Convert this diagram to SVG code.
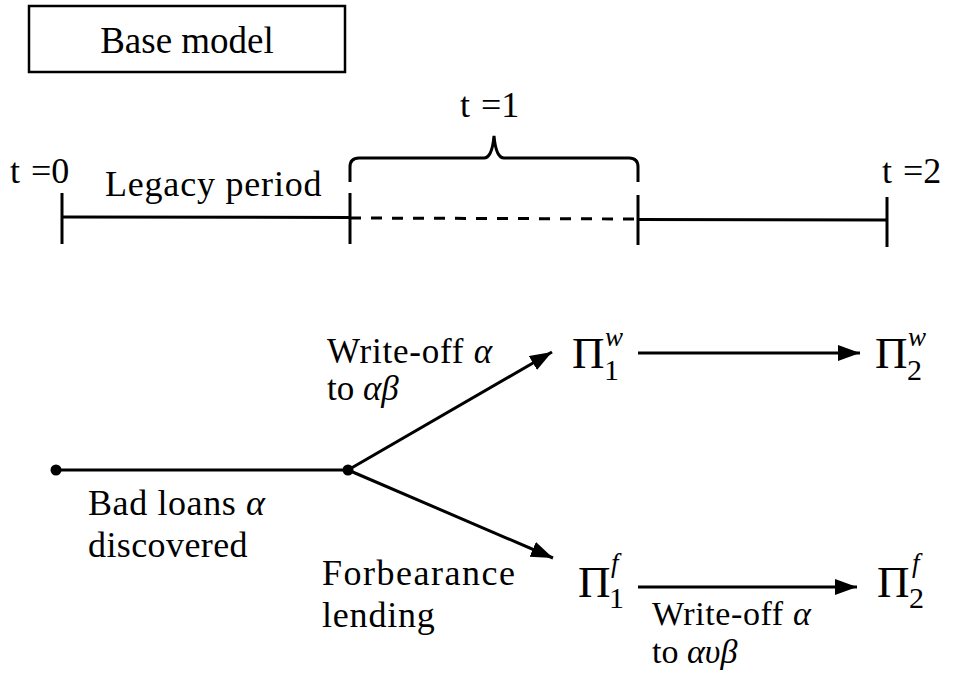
<svg xmlns="http://www.w3.org/2000/svg" width="957" height="677" viewBox="0 0 957 677">
<rect width="957" height="677" fill="#fff"/>
<defs>
<marker id="ah" markerUnits="userSpaceOnUse" markerWidth="24" markerHeight="18" refX="22" refY="8" orient="auto">
<path d="M0,0 L22,8 L0,16 Z" fill="#000"/>
</marker>
</defs>

<g id="title">
<rect x="29" y="6" width="316" height="66" fill="none" stroke="#000" stroke-width="2.5"/>
<text x="187" y="53" text-anchor="middle" font-family="Times New Roman, Liberation Serif, DejaVu Serif, serif" font-size="37">Base model</text>
</g>

<g id="timeline">
<line stroke="#000" stroke-width="3" x1="62" y1="217" x2="350" y2="217.5"/>
<line stroke="#000" stroke-width="3" x1="350" y1="218" x2="638" y2="219" stroke-dasharray="11 10"/>
<line stroke="#000" stroke-width="3" x1="638" y1="219.5" x2="887" y2="220"/>
<line stroke="#000" stroke-width="3" x1="62" y1="193" x2="62" y2="244"/>
<line stroke="#000" stroke-width="3" x1="350" y1="193" x2="350" y2="244"/>
<line stroke="#000" stroke-width="3" x1="638" y1="195" x2="638" y2="245"/>
<line stroke="#000" stroke-width="3" x1="887" y1="197" x2="887" y2="247"/>
<path stroke="#000" stroke-width="3" fill="none" d="M350,182 L350,167 Q350,158 359,158 L484,158 Q492,158 494,136 Q496,158 504,158 L629,158 Q638,158 638,167 L638,182"/>
<text x="10" y="183" font-family="Times New Roman, Liberation Serif, DejaVu Serif, serif" font-size="36">t <tspan dx="2">=0</tspan></text>
<text x="105" y="196" font-family="Times New Roman, Liberation Serif, DejaVu Serif, serif" font-size="36" letter-spacing="0.8">Legacy period</text>
<text x="460" y="117" font-family="Times New Roman, Liberation Serif, DejaVu Serif, serif" font-size="36">t <tspan dx="2">=1</tspan></text>
<text x="882" y="183" font-family="Times New Roman, Liberation Serif, DejaVu Serif, serif" font-size="36">t <tspan dx="2">=2</tspan></text>
</g>

<g id="connectors" stroke="#000" stroke-width="3" fill="none">
<line x1="56" y1="470" x2="348" y2="470"/>
<line x1="348" y1="470" x2="552" y2="352" marker-end="url(#ah)"/>
<line x1="348" y1="470" x2="553" y2="558" marker-end="url(#ah)"/>
<line x1="638" y1="353" x2="860" y2="353" marker-end="url(#ah)"/>
<line x1="638" y1="587" x2="857" y2="587" marker-end="url(#ah)"/>
</g>

<g id="start">
<circle cx="56" cy="470" r="5.5" fill="#000"/>
<text x="88" y="515" font-family="Times New Roman, Liberation Serif, DejaVu Serif, serif" font-size="36" letter-spacing="0.6">Bad loans <tspan font-style="italic">α</tspan></text>
<text x="88" y="557" font-family="Times New Roman, Liberation Serif, DejaVu Serif, serif" font-size="36" letter-spacing="0.4">discovered</text>
</g>

<g id="branch">
<circle cx="348" cy="470" r="5.5" fill="#000"/>
<text x="327" y="363" font-family="Times New Roman, Liberation Serif, DejaVu Serif, serif" font-size="35" letter-spacing="0.8">Write-off <tspan font-style="italic">α</tspan></text>
<text x="327" y="400" font-family="Times New Roman, Liberation Serif, DejaVu Serif, serif" font-size="35">to <tspan font-style="italic">αβ</tspan></text>
<text x="322" y="585" font-family="Times New Roman, Liberation Serif, DejaVu Serif, serif" font-size="36" letter-spacing="1.5">Forbearance</text>
<text x="322" y="627" font-family="Times New Roman, Liberation Serif, DejaVu Serif, serif" font-size="36" letter-spacing="0.8">lending</text>
</g>

<g id="pi1w">
<text x="572" y="368" font-family="Times New Roman, Liberation Serif, DejaVu Serif, serif" font-size="45">Π</text>
<text x="604" y="380" font-family="Times New Roman, Liberation Serif, DejaVu Serif, serif" font-size="30">1</text>
<text x="605" y="346" font-family="Times New Roman, Liberation Serif, DejaVu Serif, serif" font-size="27" font-style="italic">w</text>
</g>

<g id="pi2w">
<text x="875" y="368" font-family="Times New Roman, Liberation Serif, DejaVu Serif, serif" font-size="45">Π</text>
<text x="907" y="380" font-family="Times New Roman, Liberation Serif, DejaVu Serif, serif" font-size="30">2</text>
<text x="908" y="346" font-family="Times New Roman, Liberation Serif, DejaVu Serif, serif" font-size="27" font-style="italic">w</text>
</g>

<g id="pi1f">
<text x="578" y="597" font-family="Times New Roman, Liberation Serif, DejaVu Serif, serif" font-size="45">Π</text>
<text x="609" y="608" font-family="Times New Roman, Liberation Serif, DejaVu Serif, serif" font-size="30">1</text>
<text x="611" y="572" font-family="Times New Roman, Liberation Serif, DejaVu Serif, serif" font-size="27" font-style="italic">f</text>
<text x="652" y="625" font-family="Times New Roman, Liberation Serif, DejaVu Serif, serif" font-size="34" letter-spacing="0.6">Write-off <tspan font-style="italic">α</tspan></text>
<text x="652" y="663" font-family="Times New Roman, Liberation Serif, DejaVu Serif, serif" font-size="34">to <tspan font-style="italic">αυβ</tspan></text>
</g>

<g id="pi2f">
<text x="877" y="597" font-family="Times New Roman, Liberation Serif, DejaVu Serif, serif" font-size="45">Π</text>
<text x="909" y="608" font-family="Times New Roman, Liberation Serif, DejaVu Serif, serif" font-size="30">2</text>
<text x="912" y="572" font-family="Times New Roman, Liberation Serif, DejaVu Serif, serif" font-size="27" font-style="italic">f</text>
</g>
</svg>
